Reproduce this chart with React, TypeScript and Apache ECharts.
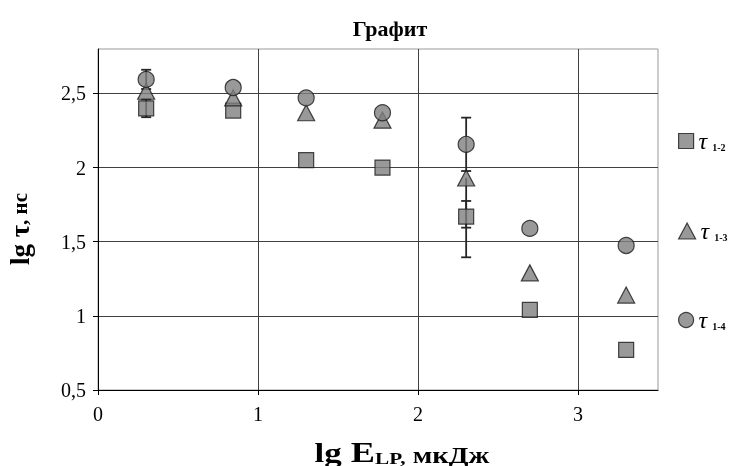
import React, { useEffect, useRef } from 'react';
import * as echarts from 'echarts';

// lg E (μJ) positions
const xVals = [0.301, 0.845, 1.301, 1.778, 2.301, 2.699, 3.301];
// lg τ values
const tau12 = [2.4, 2.385, 2.05, 2.0, 1.67, 1.04, 0.77];
const tau13 = [2.515, 2.47, 2.37, 2.32, 1.93, 1.29, 1.14];
const tau14 = [2.595, 2.54, 2.47, 2.37, 2.157, 1.59, 1.475];
// error bars (plus / minus)
const err12Plus = [0.06, 0, 0, 0, 0.105, 0, 0];
const err12Minus = [0.06, 0, 0, 0, 0.075, 0, 0];
const err13Plus = [0, 0, 0, 0, 0, 0, 0];
const err13Minus = [0, 0, 0, 0, 0.535, 0, 0];
const err14Plus = [0.065, 0, 0, 0, 0.18, 0, 0];
const err14Minus = [0.065, 0, 0, 0, 0.18, 0, 0];

const seriesNames = ['τ1-2', 'τ1-3', 'τ1-4'];
const seriesSymbols = ['rect', 'triangle', 'circle'];
const yTickValues = [0.5, 1, 1.5, 2, 2.5];
const xTickValues = [0, 1, 2, 3];
const chartTitle = 'Графит';
const yTitleMain = 'lg τ';
const yTitleUnit = ', нс';
const xTitleLg = 'lg';
const xTitleE = 'E';
const xTitleSub = 'LP,';
const xTitleUnit = ' мкДж';

const FONT = '"Liberation Serif", "Times New Roman", serif';

export default function App() {
  const ref = useRef<HTMLDivElement>(null);
  useEffect(() => {
    const chart = echarts.init(ref.current!, null, { renderer: 'svg' });
    const allY = [tau12, tau13, tau14];
    const allPlus = [err12Plus, err13Plus, err14Plus];
    const allMinus = [err12Minus, err13Minus, err14Minus];
    const sizes: any[] = [15, [17, 16], 16];

    const errData: number[][] = [];
    allY.forEach((ys, s) => {
      ys.forEach((y, i) => {
        const p = allPlus[s][i];
        const m = allMinus[s][i];
        if (p > 0 || m > 0) errData.push([xVals[i], y, p, m]);
      });
    });

    const markerStyle = { color: '#808080', borderColor: '#1a1a1a', borderWidth: 1.2 };

    const scatterSeries = seriesNames.map((name, s) => ({
      type: 'scatter',
      name,
      symbol: seriesSymbols[s],
      symbolSize: sizes[s],
      z: 3,
      itemStyle: markerStyle,
      data: xVals.map((x, i) => [x, allY[s][i]]),
    }));

    const legendTops = [128, 218, 307];

    const option: any = {
      animation: false,
      title: {
        text: chartTitle,
        left: 385,
        top: 12,
        textAlign: 'center',
        textStyle: { fontFamily: FONT, fontWeight: 'bold', fontSize: 22, color: '#000' },
      },
      legend: seriesNames.map((n, i) => ({
        data: [{ name: n, icon: seriesSymbols[i] }],
        left: 678,
        top: legendTops[i],
        itemWidth: i === 1 ? 17 : 15,
        itemHeight: i === 1 ? 16 : 15,
        padding: 0,
        selectedMode: false,
        itemStyle: markerStyle,
        formatter: (name: string) => `{t|τ}{s|${name.slice(1)}}`,
        textStyle: {
          rich: {
            t: { fontFamily: FONT, fontStyle: 'italic', fontSize: 24, color: '#000', lineHeight: 26 },
            s: { fontFamily: FONT, fontWeight: 'bold', fontSize: 10, color: '#000', padding: [14, 0, 0, 5], verticalAlign: 'top', lineHeight: 12 },
          },
        },
      })),
      grid: { left: 98, right: 72, top: 49, bottom: 76, show: true, borderColor: '#999', borderWidth: 1 },
      xAxis: {
        type: 'value',
        min: 0,
        max: 3.5,
        interval: 1,
        axisLine: { show: true, onZero: false, lineStyle: { color: '#000', width: 1 } },
        axisTick: { show: true, length: 5, lineStyle: { color: '#000' }, customValues: xTickValues },
        axisLabel: { customValues: xTickValues, fontFamily: FONT, fontSize: 20, color: '#000', margin: 14 },
        splitLine: { show: true, lineStyle: { color: '#404040', width: 1 } },
      },
      yAxis: {
        type: 'value',
        min: 0.5,
        max: 2.8,
        interval: 0.5,
        axisLine: { show: true, onZero: false, lineStyle: { color: '#000', width: 1 } },
        axisTick: { show: true, length: 5, lineStyle: { color: '#000' }, customValues: yTickValues },
        axisLabel: {
          customValues: yTickValues,
          fontFamily: FONT,
          fontSize: 20,
          color: '#000',
          margin: 12,
          formatter: (v: number) => String(v).replace('.', ','),
        },
        splitLine: { show: true, lineStyle: { color: '#404040', width: 1 } },
      },
      graphic: [
        {
          type: 'text',
          x: 20,
          y: 229,
          rotation: Math.PI / 2,
          style: {
            text: `{a|${yTitleMain}}{b|${yTitleUnit}}`,
            align: 'center',
            verticalAlign: 'middle',
            rich: {
              a: { fontFamily: FONT, fontWeight: 'bold', fontSize: 27, fill: '#000' },
              b: { fontFamily: FONT, fontWeight: 'bold', fontSize: 21, fill: '#000' },
            },
          },
        },
        {
          type: 'text',
          x: 402,
          y: 467,
          scaleX: 1.25,
          style: {
            text: `{a|${xTitleLg}}{e| ${xTitleE}}{s|${xTitleSub}}{u|${xTitleUnit}}`,
            align: 'center',
            verticalAlign: 'bottom',
            rich: {
              a: { fontFamily: FONT, fontWeight: 'bold', fontSize: 28, fill: '#000', lineHeight: 32, verticalAlign: 'bottom' },
              e: { fontFamily: FONT, fontWeight: 'bold', fontSize: 29, fill: '#000', lineHeight: 32, verticalAlign: 'bottom' },
              s: { fontFamily: FONT, fontWeight: 'bold', fontSize: 17, fill: '#000', lineHeight: 22, verticalAlign: 'bottom' },
              u: { fontFamily: FONT, fontWeight: 'bold', fontSize: 23, fill: '#000', lineHeight: 29, verticalAlign: 'bottom' },
            },
          },
        },
      ],
      series: [
        {
          type: 'custom',
          name: 'err',
          z: 1,
          silent: true,
          encode: { x: 0, y: 1 },
          data: errData,
          renderItem: (params: any, api: any) => {
            const x = api.value(0);
            const y = api.value(1);
            const p = api.value(2);
            const m = api.value(3);
            const top = api.coord([x, y + p]);
            const bot = api.coord([x, y - m]);
            const st = { stroke: '#262626', lineWidth: 1.8 };
            const children: any[] = [
              { type: 'line', shape: { x1: top[0], y1: top[1], x2: bot[0], y2: bot[1] }, style: st },
            ];
            if (p > 0) children.push({ type: 'line', shape: { x1: top[0] - 5, y1: top[1], x2: top[0] + 5, y2: top[1] }, style: st });
            if (m > 0) children.push({ type: 'line', shape: { x1: bot[0] - 5, y1: bot[1], x2: bot[0] + 5, y2: bot[1] }, style: st });
            return { type: 'group', children };
          },
        },
        ...scatterSeries,
      ],
    };
    chart.setOption(option);
    return () => chart.dispose();
  }, []);
  return <div ref={ref} style={{ position: 'fixed', left: 0, top: 0, width: 730, height: 466 }} />;
}
